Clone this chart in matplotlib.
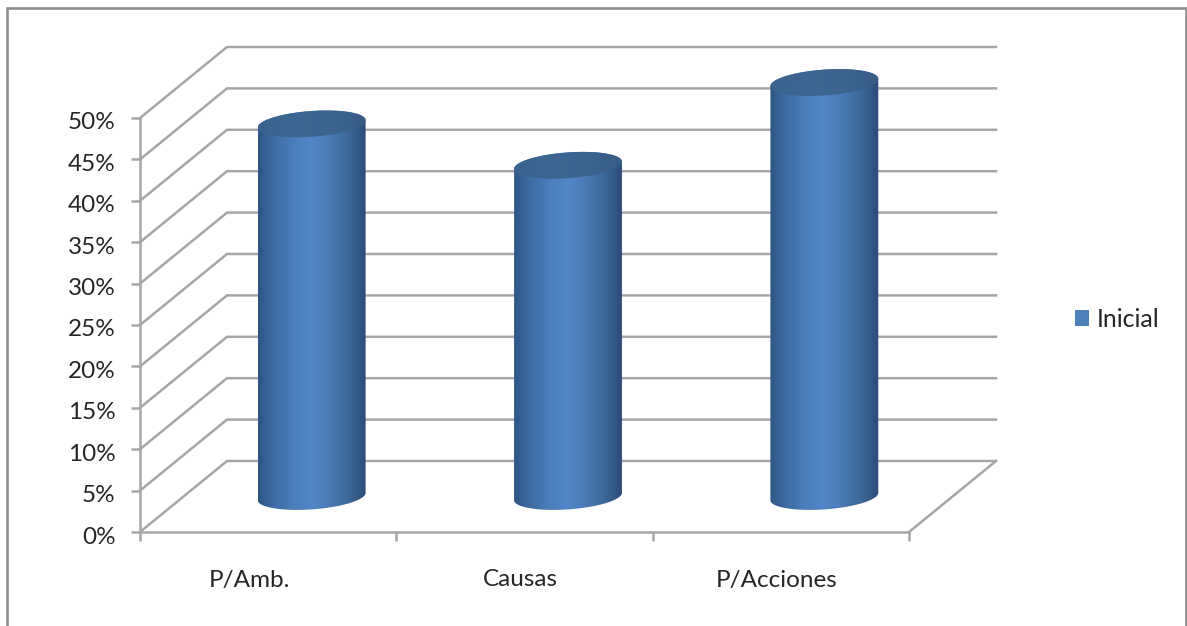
import numpy as np
import matplotlib
matplotlib.use("Agg")
import matplotlib.pyplot as plt
from matplotlib.colors import LinearSegmentedColormap
from matplotlib.patches import Patch, PathPatch, Rectangle
from matplotlib.path import Path
from matplotlib.transforms import ScaledTranslation

categories = ["P/Amb.", "Causas", "P/Acciones"]
values = [45, 40, 50]
series_name = "Inicial"
y_ticks = [0, 5, 10, 15, 20, 25, 30, 35, 40, 45, 50]

W, H = 1187, 626
plt.rcParams["font.family"] = ["Lato", "DejaVu Sans"]

GRID = "#a6a6a6"
TEXT = "#262626"

# front plane of the fake 3D box, in pixels
X0, X1 = 140, 909
Y0, Y1 = 532, 118
PX_X = (X1 - X0) / len(categories)
PX_Y = (Y0 - Y1) / y_ticks[-1]
# depth of the box
DEPTH_X = 87 / PX_X
DEPTH_Y = 71 / PX_Y

fig = plt.figure(figsize=(W / 100, H / 100), dpi=100, facecolor="white")
ax = fig.add_axes([X0 / W, (H - Y0) / H, (X1 - X0) / W, (Y0 - Y1) / H])
ax.patch.set_visible(False)

# chart frame, open at the bottom
fig.add_artist(Rectangle((6.5 / W, -0.05), (1186 - 6.5) / W, 1.05 - 8 / H,
                         transform=fig.transFigure, fill=False,
                         ec="#8f8f8f", lw=1.9))

# walls and floor
for v in y_ticks:
    ax.plot([0, DEPTH_X, len(categories) + DEPTH_X], [v, v + DEPTH_Y, v + DEPTH_Y],
            color=GRID, lw=1.8, clip_on=False, zorder=1, solid_joinstyle="miter")
ax.plot([len(categories), len(categories) + DEPTH_X], [0, DEPTH_Y],
        color=GRID, lw=1.8, clip_on=False, zorder=1)

# cylinders
body_cmap = LinearSegmentedColormap.from_list(
    "body", ["#2d5685", "#3f6ea6", "#4c7fbd", "#5285c6", "#4a7ab5", "#3d6899", "#2b4d79"])
cap_cmap = LinearSegmentedColormap.from_list(
    "cap", ["#3a628f", "#3d6692", "#3c648f", "#375c86"])

# ellipse vectors in pixels, turned into data units
U = np.array([53 / PX_X, 6 / PX_Y])
V = np.array([10 / PX_X, -12 / PX_Y])
HALF_W = 54 / PX_X
t_edge = np.arctan2(V[0], U[0])
t = np.linspace(0, 2 * np.pi, 200)


def ellipse(center, angles):
    return np.array([center[0] + np.cos(angles) * U[0] + np.sin(angles) * V[0],
                     center[1] + np.cos(angles) * U[1] + np.sin(angles) * V[1]]).T


def gradient(cmap, extent, clip, zorder):
    im = ax.imshow(np.linspace(0, 1, 256).reshape(1, -1), cmap=cmap, extent=extent,
                   aspect="auto", zorder=zorder, interpolation="bilinear")
    im.set_clip_box(fig.bbox)
    im.set_clip_path(clip)


for i, val in enumerate(values):
    cx = i + 0.5 + DEPTH_X / 2
    base = np.array([cx, DEPTH_Y / 2])
    top = np.array([cx, val + DEPTH_Y / 2])

    # outline: front half of the base, then back up along the cap
    front = ellipse(base, np.linspace(t_edge, t_edge + np.pi, 80))
    rim = ellipse(top, np.linspace(t_edge + np.pi, t_edge + 2 * np.pi, 80))
    outline = np.vstack([front, rim, front[:1]])
    body = PathPatch(Path(outline), transform=ax.transData, fc="none", ec="none")
    ax.add_patch(body)
    gradient(body_cmap, (cx - HALF_W, cx + HALF_W, 0, 70), body, 3)

    cap = PathPatch(Path(ellipse(top, t)), transform=ax.transData, fc="none", ec="none")
    ax.add_patch(cap)
    gradient(cap_cmap, (cx - HALF_W, cx + HALF_W, 0, 70), cap, 4)

ax.set_xlim(0, len(categories))
ax.set_ylim(0, y_ticks[-1])

# axes
for side in ("top", "right"):
    ax.spines[side].set_visible(False)
for side in ("left", "bottom"):
    ax.spines[side].set_color(GRID)
    ax.spines[side].set_linewidth(1.8)
    ax.spines[side].set_zorder(2)

ax.set_yticks(y_ticks)
ax.set_yticklabels([f"{v}%" for v in y_ticks], fontsize=17.5, color=TEXT)
ax.tick_params(axis="y", length=6.5, width=1.8, color=GRID, pad=11)

ax.set_xticks(range(len(categories) + 1))
ax.set_xticklabels([])
ax.tick_params(axis="x", which="major", length=6.5, width=1.8, color=GRID)
# labels in the picture sit a bit left of the category middle
ax.set_xticks([0.425, 1.485, 2.485], minor=True)
ax.set_xticklabels(categories, minor=True, fontsize=17.5, color=TEXT)
ax.tick_params(axis="x", which="minor", length=0, pad=27)

# value labels sit about 3 px under their ticks
for label in ax.get_yticklabels():
    label.set_transform(label.get_transform() + ScaledTranslation(0, -3 / 100, fig.dpi_scale_trans))

fig.legend(handles=[Patch(fc="#4f81bd", ec="none", label=series_name)],
           loc="center left", bbox_to_anchor=(1075 / W, (H - 319.5) / H),
           frameon=False, fontsize=18, labelcolor=TEXT,
           handlelength=0.56, handleheight=0.64, handletextpad=0.32,
           borderpad=0, borderaxespad=0)

fig.savefig("out.png", dpi=100)
